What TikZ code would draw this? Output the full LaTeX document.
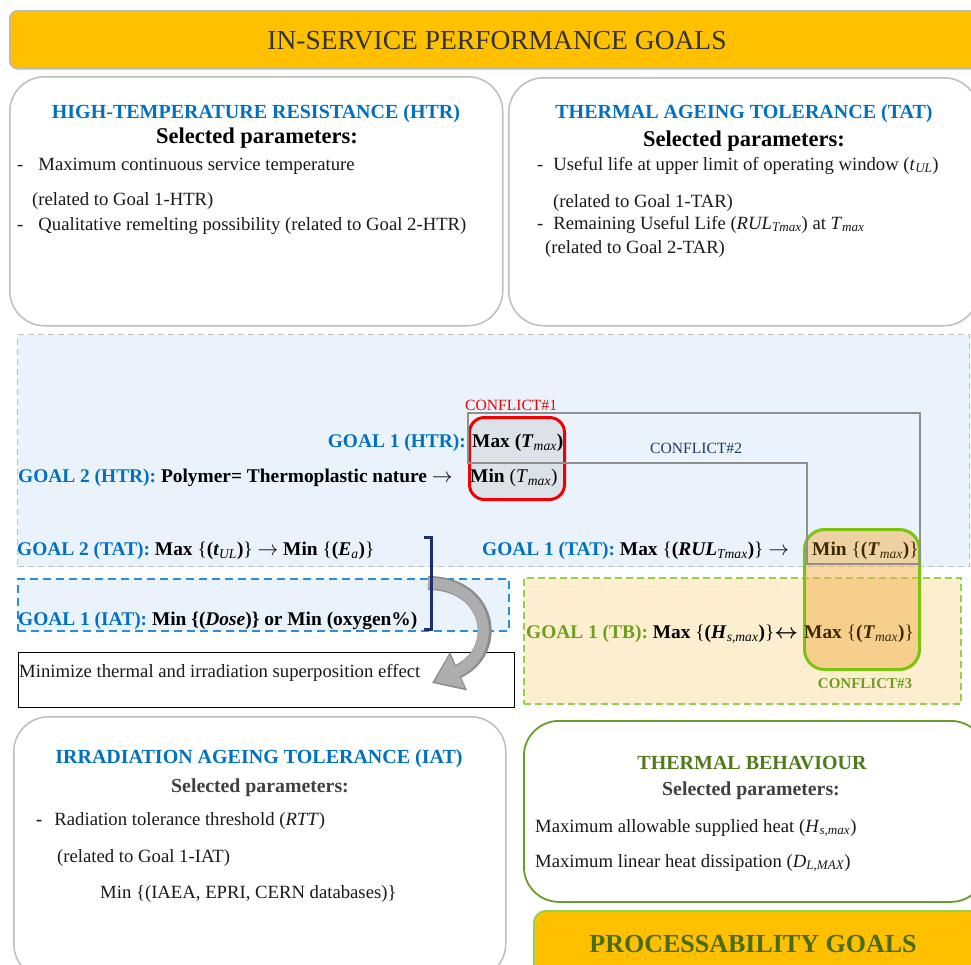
\documentclass[tikz,border=0pt]{standalone}
\usepackage{fontspec}
\setmainfont{Liberation Serif}
\usetikzlibrary{arrows.meta}

\newcommand\setfs[1]{\fontsize{#1}{#1}\selectfont}
\newcommand\ssub[1]{\textsubscript{\normalfont\itshape #1}}
\newcommand\openbr{\textnormal{\{}}
\newcommand\closebr{\textnormal{\}}}
\newcommand\rarr{$\rightarrow$}
\newcommand\lrarr{{\boldmath$\leftrightarrow$}}

\definecolor{bannerfill}{HTML}{FFC000}
\definecolor{bannertext}{HTML}{333333}
\definecolor{panelgray}{HTML}{BDBDBD}
\definecolor{titleblue}{HTML}{0070C0}
\definecolor{zoneblue}{HTML}{EAF3FB}
\definecolor{zonedash}{HTML}{BFBFBF}
\definecolor{conflred}{HTML}{F00000}
\definecolor{conflfill}{HTML}{DCE2E8}
\definecolor{linkgray}{HTML}{8F8F8F}
\definecolor{navy}{HTML}{1F3864}
\definecolor{bracketnavy}{HTML}{1B2F6E}
\definecolor{iatblue}{HTML}{2E8BD6}
\definecolor{limegreen}{HTML}{7CC30F}
\definecolor{warmorange}{HTML}{F3B24D}
\definecolor{boxbrown}{HTML}{3B2A05}
\definecolor{zoneyellow}{HTML}{FDEECF}
\definecolor{dashgreen}{HTML}{92D050}
\definecolor{olivegreen}{HTML}{6E9E1E}
\definecolor{tbgreen}{HTML}{6A9B2B}
\definecolor{darkolive}{HTML}{4F7A1B}
\definecolor{procgreen}{HTML}{4A6B18}
\definecolor{darktext}{HTML}{404040}
\definecolor{arrowgray}{HTML}{ADADAD}
\definecolor{arrowedge}{HTML}{8C8C8C}
\definecolor{bodytext}{HTML}{1A1A1A}

\tikzset{
  panel/.style={draw=panelgray, line width=1.5pt, fill=white, rounded corners=35pt,
    anchor=north west, inner sep=0pt},
  zone/.style={anchor=north west, inner sep=0pt},
  body/.style={anchor=base west, inner sep=0pt, text=bodytext, font=\setfs{18.7}},
  ttl/.style={anchor=base, inner sep=0pt, text=titleblue, font=\bfseries\setfs{20}},
  selp/.style={anchor=base, inner sep=0pt, text=black, font=\bfseries\setfs{22.5}},
  selpsmall/.style={anchor=base, inner sep=0pt, text=darktext, font=\bfseries\setfs{19.8}},
  goal/.style={anchor=base west, inner sep=0pt, text=black, font=\bfseries\setfs{19.4}},
  conf/.style={anchor=base west, inner sep=0pt, font=\setfs{15.6}},
}

\begin{document}
\begin{tikzpicture}[x=1pt,y=-1pt]
\useasboundingbox (0,0) rectangle (971,964);
\clip (0,0) rectangle (971,964);

% ---------- headline banner ----------
\node[zone, draw=gray!55, line width=1.5pt, fill=bannerfill, rounded corners=8pt,
  minimum width=985pt, minimum height=58pt] (banner) at (9,10) {};
\node[anchor=base, inner sep=0pt, text=bannertext, font=\setfs{27.5}] (bannerT) at (497,49)
  {IN-SERVICE PERFORMANCE GOALS};

% ---------- parameter panels ----------
\node[panel, minimum width=493pt, minimum height=249pt] (htr) at (9,76) {};
\node[panel, minimum width=470pt, minimum height=248pt] (tat) at (508,77) {};
\node[panel, minimum width=492pt, minimum height=262pt] (iat) at (13,716) {};
\node[panel, draw=tbgreen, line width=1.8pt, minimum width=462pt, minimum height=181pt] (tb) at (523,720) {};
\node[panel, draw=dashgreen, line width=1.8pt, fill=bannerfill, rounded corners=12pt,
  minimum width=450pt, minimum height=70pt] (proc) at (533,910) {};

% ---------- goal zones ----------
\node[zone, fill=zoneblue, draw=zonedash, line width=1.2pt, dash pattern=on 6pt off 4pt,
  minimum width=952pt, minimum height=232pt] (zoneB) at (17,334) {};
\node[zone, fill=zoneyellow, draw=dashgreen, line width=1.5pt, dash pattern=on 7pt off 4pt,
  minimum width=437pt, minimum height=126pt] (zoneTB) at (523,577) {};
\node[zone, fill=zoneblue, draw=iatblue, line width=1.8pt, dash pattern=on 8pt off 5pt,
  minimum width=491pt, minimum height=52pt] (zoneIAT) at (17,578) {};
\node[zone, fill=white, draw=black, line width=1.2pt,
  minimum width=496pt, minimum height=55pt] (superbox) at (18,652) {};

% ---------- conflict boxes ----------
\node[zone, draw=conflred, line width=3pt, fill=conflfill, rounded corners=15pt,
  minimum width=95pt, minimum height=82pt] (c1box) at (468,416) {};
\node[zone, draw=limegreen, line width=3pt, fill=warmorange, fill opacity=0.5, rounded corners=20pt,
  minimum width=115pt, minimum height=140pt] (c3box) at (803,528) {};

% ---------- panel texts ----------
\node[ttl] (htrT) at (256,118) {HIGH-TEMPERATURE RESISTANCE (HTR)};
\node[selp] (htrS) at (257,143) {Selected parameters:};
\node[body] (htr1) at (17,170) {-\hspace{15pt}Maximum continuous service temperature};
\node[body] (htr2) at (32,205) {(related to Goal 1-HTR)};
\node[body] (htr3) at (17,230) {-\hspace{15pt}Qualitative remelting possibility (related to Goal 2-HTR)};

\node[ttl] (tatT) at (744,118) {THERMAL AGEING TOLERANCE (TAT)};
\node[selp] (tatS) at (744,146) {Selected parameters:};
\node[body] (tat1) at (537,170) {-\hspace{10pt}Useful life at upper limit of operating window (\textit{t}\ssub{UL})};
\node[body] (tat2) at (553,207) {(related to Goal 1-TAR)};
\node[body] (tat3) at (537,229) {-\hspace{10pt}Remaining Useful Life (\textit{RUL}\ssub{Tmax}) at \textit{T}\ssub{max}};
\node[body] (tat4) at (545,253) {(related to Goal 2-TAR)};

\node[ttl] (iatT) at (259,763) {IRRADIATION AGEING TOLERANCE (IAT)};
\node[selpsmall] (iatS) at (260,792) {Selected parameters:};
\node[body] (iat1) at (36,825) {\textbf{-}\hspace{12pt}Radiation tolerance threshold (\textit{RTT})};
\node[body] (iat2) at (57,862) {(related to Goal 1-IAT)};
\node[body] (iat3) at (100,898) {Min \{(IAEA, EPRI, CERN databases)\}};

\node[ttl, text=darkolive] (tbT) at (752,769) {THERMAL BEHAVIOUR};
\node[selpsmall] (tbS) at (751,795) {Selected parameters:};
\node[body] (tb1) at (535,832) {Maximum allowable supplied heat (\textit{H}\ssub{s,max})};
\node[body] (tb2) at (535,867) {Maximum linear heat dissipation (\textit{D}\ssub{L,MAX})};

\node[anchor=base, inner sep=0pt, text=procgreen, font=\bfseries\setfs{26}] (procT) at (753,952)
  {PROCESSABILITY GOALS};

% ---------- goal statements ----------
\node[conf, text=conflred] (cf1) at (465,410) {CONFLICT\#1};
\node[goal, anchor=base east, text=titleblue] (g1htrL) at (466,447) {GOAL 1 (HTR):};
\node[goal] (g1htrR) at (472,447) {Max (\textit{T}\ssub{max})};
\node[goal] (g2htrL) at (18,482) {\textcolor{titleblue}{GOAL 2 (HTR):} Polymer= Thermoplastic nature \rarr};
\node[goal] (g2htrR) at (470,482) {Min \textnormal{(\textit{T}\ssub{max})}};
\node[conf, text=navy] (cf2) at (650,453) {CONFLICT\#2};

\node[goal] (g2tat) at (17,555)
  {\textcolor{titleblue}{GOAL 2 (TAT):} Max \openbr(\textit{t}\ssub{UL})\closebr\ \rarr\ Min \openbr(\textit{E}\ssub{a})\closebr};
\node[goal] (g1tatL) at (482,555)
  {\textcolor{titleblue}{GOAL 1 (TAT):} Max \openbr(\textit{RUL}\ssub{Tmax})\closebr\ \rarr};
\node[goal, text=boxbrown] (g1tatR) at (812,555) {Min \openbr(\textit{T}\ssub{max})\closebr};

\node[goal] (g1iat) at (18,625)
  {\textcolor{titleblue}{GOAL 1 (IAT):} Min \{(\textit{Dose})\} or Min (oxygen\%)};
\node[body] (superT) at (19,677) {Minimize thermal and irradiation superposition effect};

\node[goal] (g1tbL) at (526,638)
  {\textcolor{olivegreen}{GOAL 1 (TB):} Max \openbr(\textit{H}\ssub{s,max})\closebr\lrarr};
\node[goal, text=boxbrown] (g1tbR) at (804,638) {Max \openbr(\textit{T}\ssub{max})\closebr};
\node[anchor=base, inner sep=0pt, text=olivegreen, font=\bfseries\setfs{15}] (cf3) at (865,688) {CONFLICT\#3};

% ---------- conflict links ----------
\coordinate (k1) at (468,413);
\coordinate (k2) at (920,413);
\coordinate (k3) at (920,564);
\coordinate (k4) at (807,564);
\coordinate (k5) at (807,463);
\coordinate (k6) at (468,463);
\draw[linkgray, line width=1.8pt] (k1) -- (k2) -- (k3) -- (k4) -- (k5) -- (k6) -- cycle;

% ---------- superposition arrow and bracket ----------
\coordinate (arrS) at (428,583);
\coordinate (arrE) at (432,683);
\draw[arrowedge, line width=14pt, -{Triangle[length=29pt,width=40pt]}]
  (arrS) .. controls (492,583) and (502,652) .. (arrE);
\coordinate (arrE2) at (434.5,682);
\draw[arrowgray, line width=11pt, -{Triangle[length=25pt,width=35pt]}]
  (arrS) .. controls (491,584) and (500,652) .. (arrE2);

\coordinate (br1) at (424,537);
\coordinate (br2) at (431,537);
\coordinate (br3) at (431,629);
\coordinate (br4) at (424,629);
\draw[bracketnavy, line width=3pt] (br1) -- (br2) -- (br3) -- (br4);
\end{tikzpicture}
\end{document}
